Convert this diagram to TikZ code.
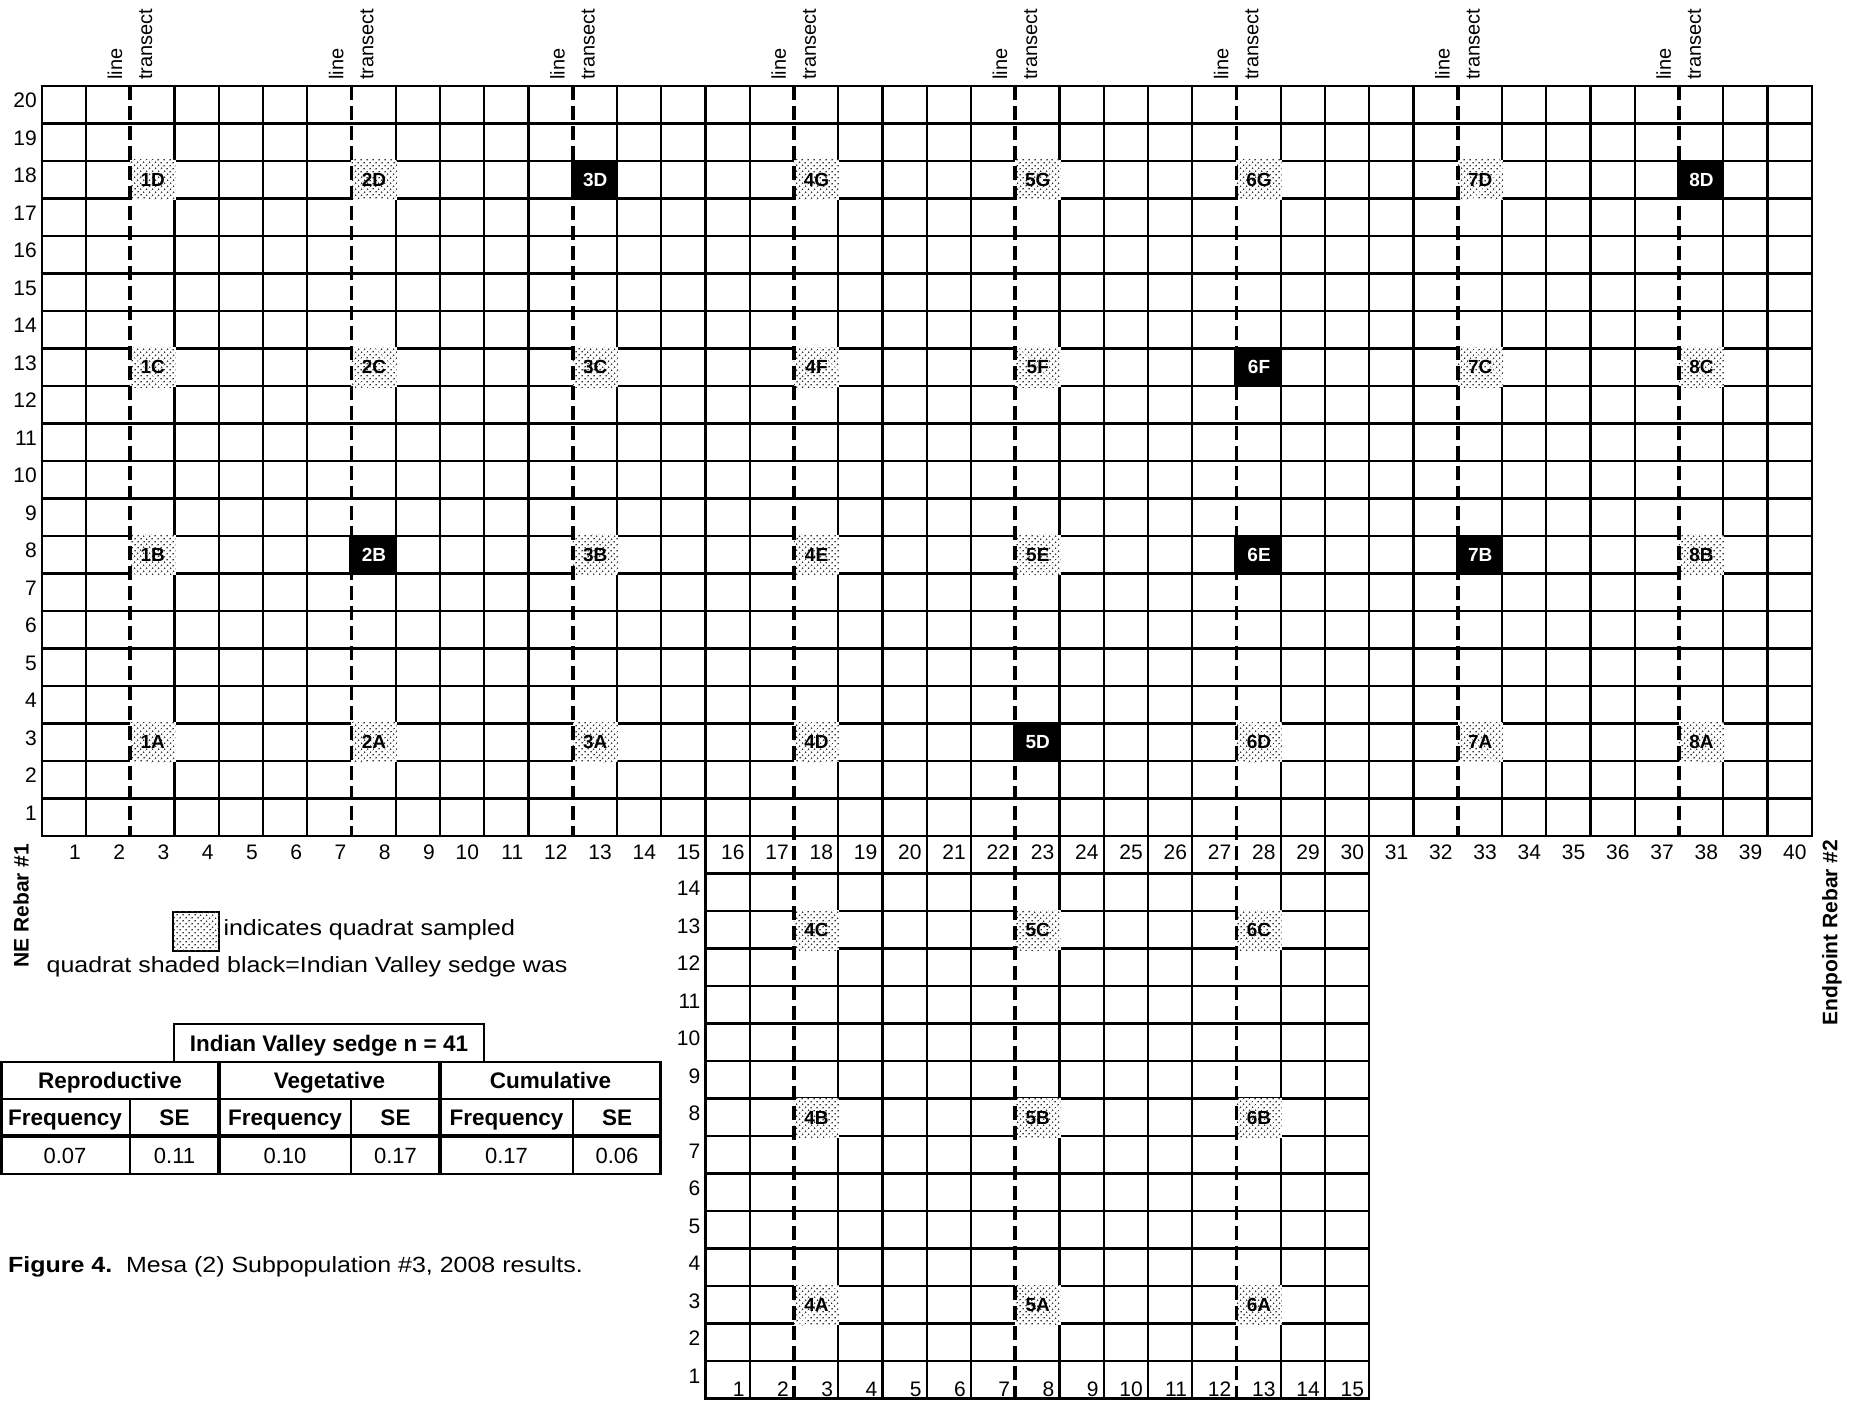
\documentclass[tikz,border=0pt]{standalone}
\usepackage{fontspec}
\setmainfont{Liberation Sans}
\newfontfamily\widefont{Liberation Sans}[FakeStretch=1.135]
\usetikzlibrary{patterns.meta}
\newcommand\fsz[1]{\fontsize{#1}{#1}\selectfont}
\begin{document}
\begin{tikzpicture}[x=1pt,y=-1pt,
  gl/.style={line width=2.2pt},
  tk/.style={line width=3.4pt},
  tgl/.style={line width=3.6pt, dash pattern=on 14pt off 6pt},
  samp/.style={fill=white, postaction={pattern={Dots[distance=4pt,radius=0.95pt,angle=45]}, pattern color=black!80}},
  blk/.style={fill=black},
  txt/.style={inner sep=0pt, font=\fsz{21}},
  wtxt/.style={inner sep=0pt, font=\widefont\fsz{22}},
  tbl/.style={inner sep=0pt, font=\fsz{22}},
  tbb/.style={inner sep=0pt, font=\fsz{22.5}\bfseries},
  cls/.style={inner sep=0pt, font=\fsz{19}\bfseries, text=black},
  clb/.style={inner sep=0pt, font=\fsz{19}\bfseries, text=white},
  vlab/.style={inner sep=0pt, font=\fsz{20}, rotate=90, anchor=base west},
  rlab/.style={inner sep=0pt, font=\fsz{21}\bfseries, rotate=90},
]
\useasboundingbox (0,0) rectangle (1862,1401);

% ---------- top grid ----------
\foreach \i in {0,...,20}
  \draw[gl] (40.6,{86+\i*37.5}) -- (1812.8,{86+\i*37.5});
\foreach \j in {0,...,40}{
  \pgfmathtruncatemacro\m{mod(\j+3,5)}
  \ifnum\m=0 \else \draw[gl] ({41.7+\j*44.25},86) -- ({41.7+\j*44.25},836); \fi
}
% ---------- lower grid ----------
\foreach \i in {0,...,15}
  \draw[gl] (704.35,{836+\i*37.5}) -- (1370.3,{836+\i*37.5});
\foreach \j in {15,...,30}{
  \pgfmathtruncatemacro\m{mod(\j+3,5)}
  \ifnum\m=0 \else \draw[gl] ({41.7+\j*44.25},836) -- ({41.7+\j*44.25},1399.6); \fi
}

% ---------- sampled quadrats ----------
\foreach \c/\r/\l in {3/18/1D,8/18/2D,18/18/4G,23/18/5G,28/18/6G,33/18/7D,
                      3/13/1C,8/13/2C,13/13/3C,18/13/4F,23/13/5F,33/13/7C,38/13/8C,
                      3/8/1B,13/8/3B,18/8/4E,23/8/5E,38/8/8B,
                      3/3/1A,8/3/2A,13/3/3A,18/3/4D,28/3/6D,33/3/7A,38/3/8A}{
  \fill[samp] ({41.7+(\c-1)*44.25},{86+(20-\r)*37.5-1.1}) rectangle ++(45.4,39.7);
  \node[cls] (q\l) at ({41.7+(\c-1)*44.25+22.6},{86+(20-\r)*37.5+18.75}) {\l};
}
\foreach \c/\r/\l in {3/13/4C,8/13/5C,13/13/6C,3/8/4B,8/8/5B,13/8/6B,3/3/4A,8/3/5A,13/3/6A}{
  \fill[samp] ({705.45+(\c-1)*44.25},{874+(14-\r)*37.5-1.1}) rectangle ++(45.4,39.7);
  \node[cls] (q\l) at ({705.45+(\c-1)*44.25+22.6},{874+(14-\r)*37.5+18.75}) {\l};
}

% ---------- transect lines ----------
\foreach \k in {0,1,2,6,7}
  \draw[tgl] ({41.7+(5*\k+2)*44.25},86) -- ({41.7+(5*\k+2)*44.25},836);
\foreach \k in {3,4,5}
  \draw[tgl] ({41.7+(5*\k+2)*44.25},86) -- ({41.7+(5*\k+2)*44.25},1398.5);
\foreach \k in {0,...,7}{
  \node[vlab] (ln\k) at ({41.7+(5*\k+2)*44.25-8},80) {line};
  \node[vlab] (tr\k) at ({41.7+(5*\k+2)*44.25+22},80) {transect};
}

% ---------- quadrats with the sedge ----------
\foreach \c/\r/\l in {13/18/3D,38/18/8D,28/13/6F,8/8/2B,28/8/6E,33/8/7B,23/3/5D}{
  \fill[blk] ({41.7+(\c-1)*44.25-2.2},{86+(20-\r)*37.5-1.1}) rectangle ++(47.5,39.7);
  \node[clb] (q\l) at ({41.7+(\c-1)*44.25+22.6},{86+(20-\r)*37.5+18.75}) {\l};
}

% ---------- axis numbers ----------
\foreach \j in {1,...,40}
  \node[txt, anchor=base east] (col\j) at ({41.7+\j*44.25-5},859) {\j};
\foreach \r in {1,...,20}
  \node[txt, anchor=base east] (row\r) at (37,{86+(20-\r)*37.5+21.5}) {\r};
\foreach \r in {1,...,14}
  \node[txt, anchor=base east] (lrow\r) at (700.5,{874+(14-\r)*37.5+21.5}) {\r};
\foreach \j in {1,...,15}
  \node[txt, anchor=base east] (lcol\j) at ({705.45+\j*44.25-5},1396) {\j};

% ---------- side labels ----------
\node[rlab] (ne) at (21,905.5) {NE Rebar \#1};
\node[rlab] (ep) at (1832,932.5) {Endpoint Rebar \#2};

% ---------- legend ----------
\draw[line width=1.8pt, samp] (173.3,911.7) rectangle (219.3,951);
\node[wtxt, anchor=base west] (leg1) at (223.3,935) {indicates quadrat sampled};
\node[wtxt, anchor=base west] (leg2) at (46.5,972) {quadrat shaded black=Indian Valley sedge was};

% ---------- table ----------
\draw[line width=1.8pt] (174,1062) -- (174,1024) -- (484,1024) -- (484,1062);
\node[tbb, anchor=base] (ttl) at (329,1051) {Indian Valley sedge n = 41};
\draw[line width=2.6pt] (0,1062) -- (662,1062);
\draw[gl] (0,1099) -- (662,1099);
\draw[tk] (0,1136) -- (662,1136);
\draw[line width=2.6pt] (0,1174) -- (662,1174);
\draw[line width=2.6pt] (1.3,1061) -- (1.3,1175);
\draw[line width=2.6pt] (660.7,1061) -- (660.7,1175);
\draw[tk] (219,1061) -- (219,1175);
\draw[tk] (440,1061) -- (440,1175);
\foreach \x in {130,351,573} \draw[gl] (\x,1099) -- (\x,1174);
\node[tbb, anchor=base] (h1) at (110,1088.5) {Reproductive};
\node[tbb, anchor=base] (h2) at (329.5,1088.5) {Vegetative};
\node[tbb, anchor=base] (h3) at (550.5,1088.5) {Cumulative};
\foreach \x/\t [count=\n] in {65/Frequency,174.5/SE,285/Frequency,395.5/SE,506.5/Frequency,617/SE}
  \node[tbb, anchor=base] (s\n) at (\x,1125.5) {\t};
\foreach \x/\t [count=\n] in {65/0.07,174.5/0.11,285/0.10,395.5/0.17,506.5/0.17,617/0.06}
  \node[tbl, anchor=base] (v\n) at (\x,1163) {\t};

% ---------- caption ----------
\node[wtxt, anchor=base west] (cap) at (8,1272) {\textbf{Figure 4.}\ \ Mesa (2) Subpopulation \#3, 2008 results.};
\end{tikzpicture}
\end{document}
